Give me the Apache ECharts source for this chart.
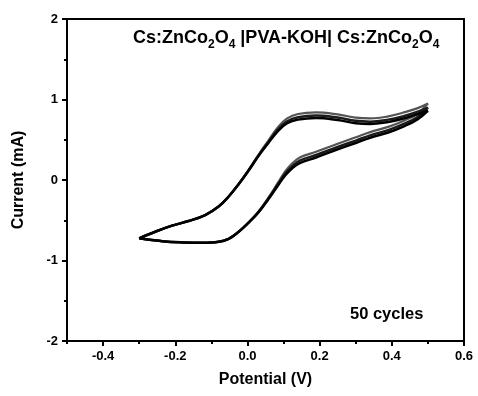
<!DOCTYPE html>
<html>
<head>
<meta charset="utf-8">
<script src="https://cdn.jsdelivr.net/npm/echarts@6/dist/echarts.min.js"></script>
<style>html,body{margin:0;padding:0;background:#fff}#c{width:478px;height:396px}</style>
</head>
<body>
<div id="c"></div>
<script>
// Potential (V) sample positions and Current (mA).
// Anodic (lower) branch, from -0.3 V to +0.5 V
var lowerX    = [-0.30,-0.236,-0.18,-0.126,-0.08,-0.052,-0.025,0.003,0.03,0.058,0.085,0.105,0.125,0.145,0.19,0.25,0.30,0.34,0.39,0.435,0.47,0.50];
var lowerEarly= [-0.725,-0.76,-0.775,-0.78,-0.768,-0.73,-0.645,-0.53,-0.395,-0.22,-0.03,0.11,0.21,0.28,0.35,0.45,0.53,0.595,0.66,0.74,0.82,0.95];
var lowerMid  = [-0.725,-0.76,-0.775,-0.78,-0.768,-0.73,-0.645,-0.53,-0.40,-0.23,-0.05,0.08,0.175,0.24,0.31,0.41,0.49,0.555,0.62,0.70,0.78,0.90];
var lowerLate = [-0.725,-0.76,-0.775,-0.78,-0.768,-0.73,-0.645,-0.53,-0.405,-0.24,-0.065,0.06,0.15,0.21,0.28,0.38,0.46,0.525,0.59,0.67,0.75,0.86];
// Cathodic (upper) branch, from +0.5 V back to -0.3 V
var upperX    = [0.50,0.47,0.43,0.39,0.34,0.30,0.25,0.19,0.14,0.11,0.085,0.058,0.03,0.003,-0.025,-0.052,-0.08,-0.117,-0.163,-0.209,-0.254,-0.30];
var upperEarly= [0.95,0.89,0.835,0.79,0.765,0.775,0.815,0.84,0.82,0.765,0.66,0.49,0.31,0.125,-0.055,-0.205,-0.33,-0.435,-0.51,-0.567,-0.64,-0.725];
var upperMid  = [0.90,0.845,0.79,0.75,0.725,0.735,0.775,0.80,0.78,0.73,0.63,0.47,0.30,0.12,-0.055,-0.205,-0.33,-0.435,-0.51,-0.567,-0.64,-0.725];
var upperLate = [0.86,0.815,0.76,0.72,0.695,0.705,0.745,0.77,0.75,0.705,0.61,0.46,0.295,0.115,-0.055,-0.205,-0.33,-0.435,-0.51,-0.567,-0.64,-0.725];
var xTickLabels = ['-0.4','-0.2','0.0','0.2','0.4','0.6'];
var yTickLabels = ['-2','-1','0','1','2'];

function loop(lo, up){
  var d = [];
  for (var i = 0; i < lowerX.length; i++) d.push([lowerX[i], lo[i]]);
  for (var j = 1; j < upperX.length; j++) d.push([upperX[j], up[j]]);
  return d;
}

var chart = echarts.init(document.getElementById('c'), null, {renderer:'canvas'});
var F = 'Liberation Sans, Arial, sans-serif';
var plotW = 478 - 67 - 14;
function mk(name, data, color, w, z){
  return {name:name, type:'line', xAxisIndex:0, yAxisIndex:0, data:data, smooth:0.4, showSymbol:false, symbol:'none',
    lineStyle:{color:color, width:w}, animation:false, z:z};
}
chart.setOption({
  animation:false,
  grid:[
    {left:67, right:14, top:19, bottom:55, show:true, borderColor:'#000', borderWidth:2, backgroundColor:'transparent'},
    {left:67 + plotW/11, right:14, top:19, bottom:55, show:false}
  ],
  xAxis:[
    {type:'value', gridIndex:0, min:-0.5, max:0.6, interval:0.1,
      name:'Potential (V)', nameLocation:'middle', nameGap:31,
      nameTextStyle:{fontFamily:F, fontWeight:'bold', fontSize:16, color:'#000'},
      axisLine:{show:true, onZero:false, lineStyle:{color:'#000', width:2}},
      axisTick:{show:true, inside:false, length:3, lineStyle:{color:'#000', width:2}},
      splitLine:{show:false}, axisLabel:{show:false}},
    {type:'value', gridIndex:1, min:-0.4, max:0.6, interval:0.2,
      axisLine:{show:false, onZero:false},
      axisTick:{show:true, inside:false, length:5, lineStyle:{color:'#000', width:2}},
      splitLine:{show:false},
      axisLabel:{fontFamily:F, fontWeight:'bold', fontSize:13, color:'#000', margin:9,
        formatter:function(v){ var i = Math.round((v + 0.4) / 0.2); return xTickLabels[i] || ''; }}}
  ],
  yAxis:[
    {type:'value', gridIndex:0, min:-2, max:2, interval:1,
      name:'Current (mA)', nameLocation:'middle', nameGap:40, nameRotate:90,
      nameTextStyle:{fontFamily:F, fontWeight:'bold', fontSize:16, color:'#000'},
      axisLine:{show:true, onZero:false, lineStyle:{color:'#000', width:2}},
      axisTick:{show:true, inside:false, length:5, lineStyle:{color:'#000', width:2}},
      minorTick:{show:true, splitNumber:2, length:3, lineStyle:{color:'#000', width:2}},
      splitLine:{show:false}, minorSplitLine:{show:false},
      axisLabel:{fontFamily:F, fontWeight:'bold', fontSize:13, color:'#000', margin:9,
        formatter:function(v){ var i = Math.round(v + 2); return yTickLabels[i] || ''; }}},
    {type:'value', gridIndex:1, min:-2, max:2, show:false}
  ],
  series:[
    mk('early cycles', loop(lowerEarly, upperEarly), '#555', 2.2, 2),
    mk('middle cycles', loop(lowerMid, upperMid), '#1a1a1a', 2.5, 3),
    mk('late cycles', loop(lowerLate, upperLate), '#000', 2.5, 4)
  ],
  graphic:[
    {type:'text', left:133, top:29, silent:true, style:{
      text:'{b|Cs:ZnCo}{s|2}{b|O}{s|4}{b| |PVA-KOH| Cs:ZnCo}{s|2}{b|O}{s|4}',
      rich:{
        b:{fontFamily:F, fontWeight:'bold', fontSize:18, fill:'#000', lineHeight:26, verticalAlign:'middle'},
        s:{fontFamily:F, fontWeight:'bold', fontSize:12, fill:'#000', lineHeight:26, verticalAlign:'bottom'}
      }}},
    {type:'text', left:350, top:306, silent:true, style:{
      text:'50 cycles', fontFamily:F, fontWeight:'bold', fontSize:16.5, fill:'#000'}}
  ]
});
</script>
</body>
</html>
